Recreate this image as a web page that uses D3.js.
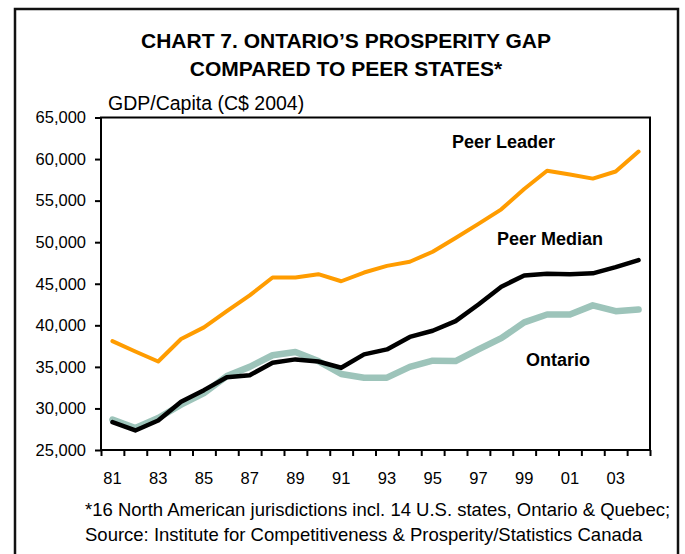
<!DOCTYPE html>
<html>
<head>
<meta charset="utf-8">
<script src="https://cdn.jsdelivr.net/npm/d3@7"></script>
<style>
  body { margin: 0; background: #fff; }
  text { font-family: "Liberation Sans", Arial, sans-serif; fill: #000; }
</style>
</head>
<body>
<script>
// Data (GDP per capita, C$ 2004)
const years = ["81","82","83","84","85","86","87","88","89","90","91","92",
               "93","94","95","96","97","98","99","00","01","02","03","04"];
const peerLeader = [38100, 36850, 35650, 38350, 39750, 41700, 43600, 45750, 45750, 46150, 45300, 46350,
                    47150, 47650, 48850, 50500, 52200, 53950, 56400, 58600, 58150, 57650, 58500, 60900];
const peerMedian = [28350, 27350, 28550, 30800, 32200, 33750, 34000, 35500, 35900, 35650, 34900, 36500,
                    37100, 38600, 39350, 40500, 42500, 44650, 46000, 46200, 46150, 46250, 47000, 47850];
const ontario    = [28650, 27650, 28850, 30450, 31850, 33900, 35000, 36400, 36800, 35700, 34150, 33700,
                    33700, 35000, 35750, 35700, 37100, 38450, 40350, 41300, 41300, 42400, 41700, 41900];
const yTicks = [25000, 30000, 35000, 40000, 45000, 50000, 55000, 60000, 65000];
const xLabels = ["81","83","85","87","89","91","93","95","97","99","01","03"];

const width = 685, height = 554;
const svg = d3.select("body").append("svg")
    .attr("width", width)
    .attr("height", height);

// outer frame (bottom edge runs off the picture)
svg.append("rect")
    .attr("x", 15).attr("y", 9)
    .attr("width", 663).attr("height", 600)
    .attr("fill", "none")
    .attr("stroke", "#111")
    .attr("stroke-width", 2.5);

// title
svg.append("text")
    .attr("x", 346).attr("y", 48)
    .attr("text-anchor", "middle")
    .style("font-weight", "bold").style("font-size", "21px")
    .text("CHART 7. ONTARIO\u2019S PROSPERITY GAP");
svg.append("text")
    .attr("x", 346).attr("y", 76)
    .attr("text-anchor", "middle")
    .style("font-weight", "bold").style("font-size", "21px")
    .text("COMPARED TO PEER STATES*");

const plot = { left: 101, right: 650, top: 117.5, bottom: 450 };

const x = d3.scaleBand()
    .domain(years)
    .range([plot.left, plot.right])
    .padding(0);
const y = d3.scaleLinear()
    .domain([25000, 65000])
    .range([plot.bottom, plot.top]);

// unit label
svg.append("text")
    .attr("x", 108).attr("y", 110)
    .style("font-size", "19.5px")
    .text("GDP/Capita (C$ 2004)");

// plot box
svg.append("rect")
    .attr("x", plot.left).attr("y", plot.top)
    .attr("width", plot.right - plot.left)
    .attr("height", plot.bottom - plot.top)
    .attr("fill", "none")
    .attr("stroke", "#000")
    .attr("stroke-width", 2);

// y axis
const yAxis = svg.append("g")
    .attr("transform", "translate(" + plot.left + ",0)")
    .call(d3.axisLeft(y)
        .tickValues(yTicks)
        .tickSize(6)
        .tickPadding(9)
        .tickFormat(d3.format(",")));
yAxis.select(".domain").remove();
yAxis.selectAll(".tick line").attr("stroke", "#000").attr("stroke-width", 2);
yAxis.selectAll(".tick text")
    .style("font-family", "'Liberation Sans', Arial, sans-serif")
    .style("font-size", "16.5px")
    .attr("fill", "#000");

// x axis: tick marks on category boundaries, labels every other year
const xTicks = svg.append("g")
    .attr("transform", "translate(0," + plot.bottom + ")")
    .call(d3.axisBottom(d3.scaleLinear().domain([0, years.length]).range([plot.left, plot.right]))
        .tickValues(d3.range(years.length + 1))
        .tickSize(6)
        .tickFormat(""));
xTicks.select(".domain").remove();
xTicks.selectAll(".tick line").attr("stroke", "#000").attr("stroke-width", 2);

const xAxis = svg.append("g")
    .attr("transform", "translate(0," + plot.bottom + ")")
    .call(d3.axisBottom(x)
        .tickValues(xLabels)
        .tickSize(0)
        .tickPadding(22));
xAxis.select(".domain").remove();
xAxis.selectAll(".tick text")
    .style("font-family", "'Liberation Sans', Arial, sans-serif")
    .style("font-size", "16.5px")
    .attr("fill", "#000");

// lines
const line = d3.line()
    .x(function(d, i) { return x(years[i]) + x.bandwidth() / 2; })
    .y(function(d) { return y(d); });

const series = [
    { name: "Ontario", values: ontario, colour: "#9dc4ba", w: 6.5 },
    { name: "Peer Median", values: peerMedian, colour: "#000000", w: 4.5 },
    { name: "Peer Leader", values: peerLeader, colour: "#ff9c00", w: 4 }
];

svg.selectAll(".series")
    .data(series)
    .enter().append("path")
    .attr("class", "series")
    .attr("d", function(d) { return line(d.values); })
    .attr("fill", "none")
    .attr("stroke", function(d) { return d.colour; })
    .attr("stroke-width", function(d) { return d.w; })
    .attr("stroke-linejoin", "round")
    .attr("stroke-linecap", "round");

// series labels
const seriesLabels = [
    { text: "Peer Leader", x: 452, y: 148 },
    { text: "Peer Median", x: 497, y: 245 },
    { text: "Ontario", x: 526, y: 366 }
];
svg.selectAll(".slabel")
    .data(seriesLabels)
    .enter().append("text")
    .attr("class", "slabel")
    .attr("x", function(d) { return d.x; })
    .attr("y", function(d) { return d.y; })
    .style("font-weight", "bold")
    .style("font-size", "18px")
    .text(function(d) { return d.text; });

// footnote
svg.append("text")
    .attr("x", 85).attr("y", 516)
    .style("font-size", "18.5px")
    .text("*16 North American jurisdictions incl. 14 U.S. states, Ontario & Quebec;");
svg.append("text")
    .attr("x", 85).attr("y", 541)
    .style("font-size", "18.5px")
    .text("Source: Institute for Competitiveness & Prosperity/Statistics Canada");
</script>
</body>
</html>
